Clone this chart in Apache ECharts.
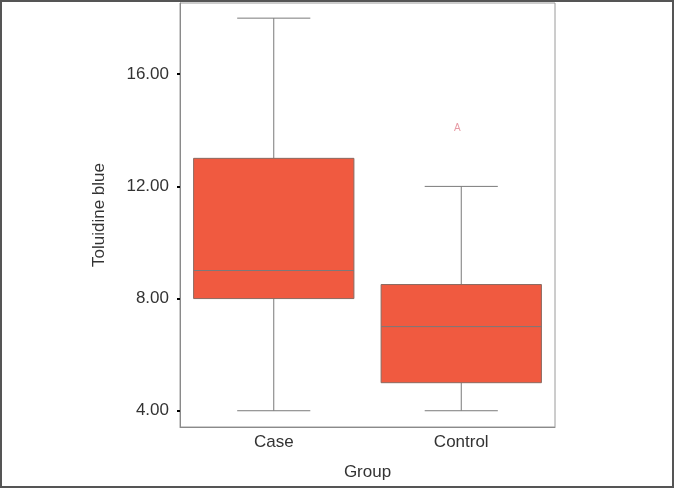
<!DOCTYPE html>
<html>
<head>
<meta charset="utf-8">
<script src="https://cdn.jsdelivr.net/npm/echarts@6/dist/echarts.min.js"></script>
<style>
  html, body { margin: 0; padding: 0; background: #fff; }
  #main { width: 674px; height: 488px; }
</style>
</head>
<body>
<div id="main"></div>
<script>
// box statistics per group
const groups = ['Case', 'Control'];
const lowerWhisker = [4, 4];
const q1 = [8, 5];
const median = [9, 7];
const q3 = [13, 8.5];
const upperWhisker = [18, 12];

// outliers
const outlierGroup = [1];
const outlierValue = [14];

const yTicks = [4, 8, 12, 16];

const chart = echarts.init(document.getElementById('main'));

function renderBox(params, api) {
  const i = api.value(0);
  const band = api.size([1, 0])[0];
  const boxW = band * 0.855;
  const capW = band * 0.39;
  const pLow = api.coord([i, api.value(1)]);
  const pQ1 = api.coord([i, api.value(2)]);
  const pMed = api.coord([i, api.value(3)]);
  const pQ3 = api.coord([i, api.value(4)]);
  const pHigh = api.coord([i, api.value(5)]);
  const x = pMed[0];
  const line = { stroke: '#7a7a7a', lineWidth: 1 };
  return {
    type: 'group',
    children: [
      { type: 'line', shape: { x1: x, y1: pHigh[1], x2: x, y2: pQ3[1] }, style: line },
      { type: 'line', shape: { x1: x, y1: pQ1[1], x2: x, y2: pLow[1] }, style: line },
      { type: 'line', shape: { x1: x - capW / 2, y1: pHigh[1], x2: x + capW / 2, y2: pHigh[1] }, style: line },
      { type: 'line', shape: { x1: x - capW / 2, y1: pLow[1], x2: x + capW / 2, y2: pLow[1] }, style: line },
      {
        type: 'rect',
        shape: { x: x - boxW / 2, y: pQ3[1], width: boxW, height: pQ1[1] - pQ3[1] },
        style: { fill: '#F05A40', stroke: '#8a6a60', lineWidth: 1 }
      },
      { type: 'line', shape: { x1: x - boxW / 2, y1: pMed[1], x2: x + boxW / 2, y2: pMed[1] }, style: line }
    ]
  };
}

// outlier glyph sits a little left of the box centre in the original
function renderOutlier(params, api) {
  const p = api.coord([api.value(0), api.value(1)]);
  return {
    type: 'text',
    x: p[0] - 4,
    y: p[1] - 2,
    style: {
      text: 'A',
      fill: '#e79aa4',
      fontSize: 10,
      fontFamily: 'Liberation Sans',
      align: 'center',
      verticalAlign: 'middle'
    }
  };
}

const boxData = groups.map((g, i) => [i, lowerWhisker[i], q1[i], median[i], q3[i], upperWhisker[i]]);
const outlierData = outlierGroup.map((g, i) => [g, outlierValue[i]]);

const option = {
  backgroundColor: '#fff',
  animation: false,
  textStyle: { fontFamily: 'Liberation Sans' },
  grid: {
    left: 180, right: 119, top: 3, bottom: 61,
    show: true, borderColor: '#9a9a9a', borderWidth: 1
  },
  xAxis: {
    type: 'category',
    data: groups,
    name: 'Group',
    nameLocation: 'middle',
    nameGap: 37,
    nameTextStyle: { fontSize: 17, color: '#333' },
    axisLine: { lineStyle: { color: '#8a8a8a' } },
    axisTick: { alignWithLabel: true, length: 3, lineStyle: { color: '#000', width: 2 } },
    axisLabel: { fontSize: 17, color: '#333', margin: 7 },
    splitLine: { show: false }
  },
  yAxis: {
    type: 'value',
    min: 3.42,
    max: 18.54,
    name: 'Toluidine blue',
    nameLocation: 'middle',
    nameGap: 72,
    nameTextStyle: { fontSize: 17, color: '#333' },
    axisLine: { show: true, lineStyle: { color: '#8a8a8a' } },
    axisTick: { show: true, length: 3, customValues: yTicks, lineStyle: { color: '#000', width: 2 } },
    axisLabel: {
      fontSize: 17, color: '#333', margin: 11,
      customValues: yTicks,
      formatter: v => v.toFixed(2)
    },
    splitLine: { show: false }
  },
  graphic: [{
    type: 'rect',
    shape: { x: 1, y: 1, width: 672, height: 486 },
    style: { fill: 'none', stroke: '#555', lineWidth: 2 },
    silent: true
  }],
  series: [
    { type: 'custom', renderItem: renderBox, data: boxData, encode: { x: 0, y: [1, 2, 3, 4, 5] } },
    { type: 'custom', renderItem: renderOutlier, data: outlierData, encode: { x: 0, y: 1 } }
  ]
};

chart.setOption(option);
</script>
</body>
</html>
